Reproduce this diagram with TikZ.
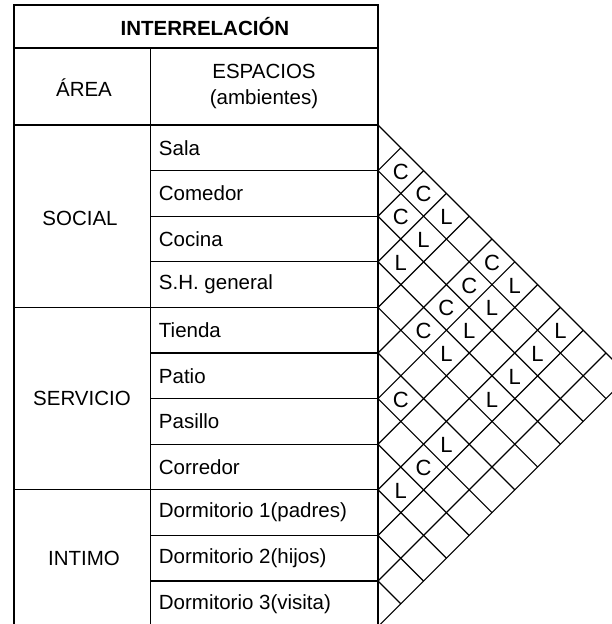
\documentclass[tikz,border=0pt]{standalone}
\usepackage{fontspec}
\setmainfont{Liberation Sans}
\begin{document}
\begin{tikzpicture}[x=1pt,y=-1pt,line width=1.2pt,font=\fontsize{20.5}{26}\selectfont]
\useasboundingbox (0,0) rectangle (612,624);
\clip (0,0) rectangle (612,624);
% tabla
\draw (14,5) rectangle (378,700);
\draw (14,48)--(378,48) (150.7,48)--(150.7,700);
\draw (14,125)--(150.7,125) (14,307.4)--(150.7,307.4) (14,489.8)--(150.7,489.8);
\foreach \k in {0,...,10}{\draw (150.7,{125+\k*45.6})--(378,{125+\k*45.6});}
\node (titulo) at (205,27){\bfseries INTERRELACIÓN};
\node (area) at (84,88){ÁREA};\node[align=center] (espacios) at (264,86.5){ESPACIOS\\(ambientes)};
\node (social) at (80,218){SOCIAL};\node (servicio) at (82,398.6){SERVICIO};\node (intimo) at (84,558.2){INTIMO};
\foreach \k/\t in {1/Sala,2/Comedor,3/Cocina,4/S.H. general,5/Tienda,6/Patio,7/Pasillo,8/Corredor,9/Dormitorio 1(padres),10/Dormitorio 2(hijos),11/Dormitorio 3(visita)}{\node[anchor=west] (esp\k) at (155,{102.2+\k*45.6}){\t};}
% matriz de interrelacion
\foreach \k in {0,...,11}{\draw (378,{125+\k*45.6})--++({(11-\k)*22.8},{(11-\k)*22.8}) (378,{125+\k*45.6})--++({\k*22.8},{-\k*22.8});}
\foreach \i/\j/\t in {1/2/C,1/3/C,2/3/C,1/6/C,2/6/C,3/6/C,4/6/C,6/7/C,7/9/C,1/4/L,2/4/L,3/4/L,1/7/L,2/7/L,3/7/L,4/7/L,1/9/L,2/9/L,3/9/L,4/9/L,6/9/L,8/9/L}{\node[font=\fontsize{22}{26}\selectfont] (m\i-\j) at ({378+(\j-\i)*22.8},{126+(\i+\j-1)*22.8}){\t};}
\end{tikzpicture}
\end{document}
